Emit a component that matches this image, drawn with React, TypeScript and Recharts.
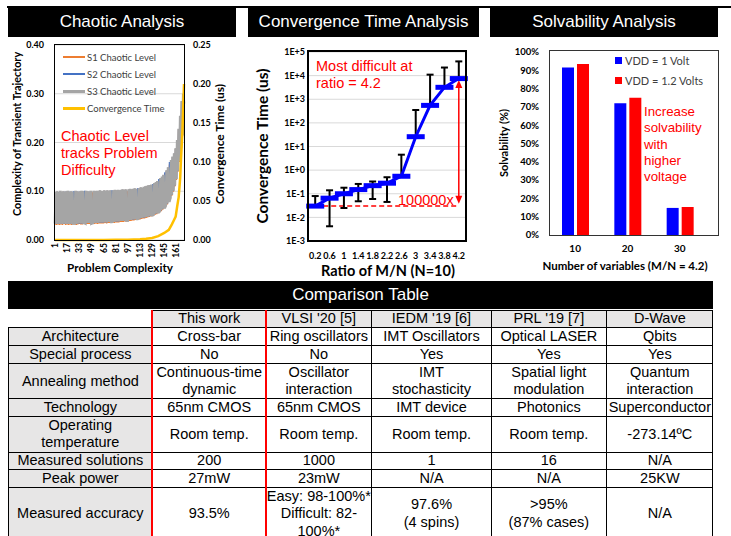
import React from "react";
import {
  ComposedChart,
  LineChart,
  BarChart,
  Line,
  Bar,
  XAxis,
  YAxis,
  CartesianGrid,
  ErrorBar,
  ReferenceLine,
} from "recharts";

const SANS = '"Liberation Sans", Arial, sans-serif';
const AXF = 'Lato, "Open Sans", sans-serif';

// ---- Chaotic analysis (index 1..171) ----
const s1Level = [
  0.032, 0.098, 0.031, 0.099, 0.032, 0.097, 0.031, 0.1, 0.032, 0.098,
  0.031, 0.099, 0.033, 0.098, 0.031, 0.099, 0.032, 0.1, 0.031, 0.098,
  0.032, 0.099, 0.031, 0.098, 0.032, 0.099, 0.032, 0.1, 0.031, 0.099,
  0.032, 0.098, 0.033, 0.099, 0.032, 0.1, 0.032, 0.099, 0.033, 0.099,
  0.032, 0.1, 0.033, 0.099, 0.033, 0.098, 0.033, 0.1, 0.032, 0.098,
  0.033, 0.1, 0.033, 0.099, 0.034, 0.1, 0.033, 0.099, 0.034, 0.101,
  0.034, 0.1, 0.034, 0.099, 0.034, 0.101, 0.035, 0.1, 0.034, 0.101,
  0.035, 0.1, 0.035, 0.101, 0.035, 0.1, 0.036, 0.101, 0.035, 0.102,
  0.036, 0.101, 0.036, 0.102, 0.036, 0.101, 0.037, 0.102, 0.037, 0.103,
  0.037, 0.102, 0.038, 0.103, 0.038, 0.1, 0.038, 0.103, 0.039, 0.104,
  0.039, 0.103, 0.04, 0.104, 0.04, 0.105, 0.041, 0.104, 0.041, 0.105,
  0.042, 0.105, 0.042, 0.107, 0.043, 0.106, 0.044, 0.108, 0.044, 0.109,
  0.045, 0.11, 0.046, 0.111, 0.047, 0.112, 0.048, 0.113, 0.049, 0.114,
  0.05, 0.116, 0.052, 0.118, 0.053, 0.12, 0.055, 0.122, 0.057, 0.126,
  0.059, 0.129, 0.062, 0.133, 0.065, 0.137, 0.069, 0.142, 0.073, 0.148,
  0.078, 0.155, 0.084, 0.163, 0.091, 0.17, 0.099, 0.177, 0.11, 0.187,
  0.123, 0.204, 0.14, 0.227, 0.16, 0.254, 0.186, 0.284, 0.213, 0.27,
  0.27,
];
const s2Level = [
  0.034, 0.098, 0.033, 0.099, 0.034, 0.098, 0.033, 0.1, 0.034, 0.098,
  0.033, 0.099, 0.034, 0.099, 0.033, 0.099, 0.034, 0.1, 0.033, 0.099,
  0.034, 0.099, 0.033, 0.099, 0.034, 0.1, 0.034, 0.1, 0.033, 0.099,
  0.034, 0.099, 0.034, 0.099, 0.034, 0.1, 0.034, 0.099, 0.035, 0.101,
  0.034, 0.1, 0.035, 0.099, 0.035, 0.099, 0.035, 0.1, 0.034, 0.034,
  0.035, 0.1, 0.035, 0.099, 0.036, 0.1, 0.035, 0.099, 0.036, 0.101,
  0.036, 0.1, 0.036, 0.099, 0.036, 0.101, 0.037, 0.1, 0.036, 0.101,
  0.037, 0.1, 0.037, 0.101, 0.037, 0.102, 0.038, 0.101, 0.037, 0.102,
  0.038, 0.101, 0.038, 0.102, 0.038, 0.101, 0.039, 0.102, 0.039, 0.103,
  0.039, 0.102, 0.04, 0.103, 0.04, 0.04, 0.04, 0.103, 0.041, 0.104,
  0.041, 0.103, 0.042, 0.104, 0.042, 0.105, 0.043, 0.104, 0.043, 0.106,
  0.044, 0.105, 0.044, 0.107, 0.045, 0.106, 0.046, 0.108, 0.046, 0.109,
  0.047, 0.11, 0.048, 0.111, 0.049, 0.112, 0.05, 0.113, 0.051, 0.115,
  0.052, 0.116, 0.054, 0.118, 0.055, 0.12, 0.057, 0.125, 0.059, 0.126,
  0.061, 0.129, 0.064, 0.133, 0.067, 0.139, 0.071, 0.142, 0.075, 0.148,
  0.08, 0.16, 0.086, 0.163, 0.093, 0.17, 0.101, 0.177, 0.112, 0.187,
  0.125, 0.204, 0.142, 0.227, 0.162, 0.254, 0.188, 0.284, 0.215, 0.299,
  0.275,
];
const s3Level = [
  0.034, 0.099, 0.033, 0.1, 0.034, 0.098, 0.033, 0.101, 0.034, 0.099,
  0.033, 0.1, 0.035, 0.099, 0.033, 0.1, 0.034, 0.101, 0.033, 0.099,
  0.034, 0.1, 0.033, 0.099, 0.034, 0.034, 0.034, 0.101, 0.033, 0.1,
  0.034, 0.099, 0.035, 0.1, 0.034, 0.101, 0.034, 0.1, 0.035, 0.035,
  0.034, 0.101, 0.035, 0.1, 0.035, 0.099, 0.035, 0.101, 0.034, 0.035,
  0.035, 0.101, 0.035, 0.1, 0.036, 0.101, 0.035, 0.1, 0.036, 0.102,
  0.036, 0.101, 0.036, 0.1, 0.036, 0.102, 0.037, 0.101, 0.036, 0.102,
  0.037, 0.101, 0.037, 0.102, 0.037, 0.037, 0.038, 0.102, 0.037, 0.103,
  0.038, 0.102, 0.038, 0.103, 0.038, 0.102, 0.039, 0.103, 0.039, 0.104,
  0.039, 0.103, 0.04, 0.104, 0.04, 0.04, 0.04, 0.104, 0.041, 0.105,
  0.041, 0.104, 0.042, 0.105, 0.042, 0.106, 0.043, 0.105, 0.043, 0.043,
  0.044, 0.106, 0.044, 0.108, 0.045, 0.107, 0.046, 0.109, 0.046, 0.11,
  0.047, 0.111, 0.048, 0.112, 0.049, 0.113, 0.05, 0.114, 0.051, 0.051,
  0.052, 0.117, 0.054, 0.119, 0.055, 0.121, 0.057, 0.057, 0.059, 0.127,
  0.061, 0.13, 0.064, 0.134, 0.067, 0.067, 0.071, 0.143, 0.075, 0.149,
  0.08, 0.08, 0.086, 0.164, 0.093, 0.171, 0.101, 0.178, 0.112, 0.188,
  0.125, 0.205, 0.142, 0.228, 0.162, 0.255, 0.188, 0.285, 0.215, 0.3,
  0.28,
];
const convIdx = [1, 17, 33, 49, 65, 81, 97, 113, 121, 129, 137, 145, 151, 155, 158, 160, 162, 164, 166, 167, 169, 171];
const convTimeUs = [0, 0, 0, 0, 0.0001, 0.0002, 0.0004, 0.001, 0.0015, 0.0025, 0.005, 0.009, 0.013, 0.02, 0.026, 0.03, 0.043, 0.055, 0.08, 0.103, 0.141, 0.2];
const complexityTicks = [1, 17, 33, 49, 65, 81, 97, 113, 129, 145, 161];

// ---- Convergence time vs M/N ----
const ratios = ["0.2", "0.6", "1", "1.4", "1.8", "2.2", "2.6", "3", "3.4", "3.8", "4.2"];
const meanTime = [0.03, 0.065, 0.1, 0.15, 0.22, 0.28, 0.55, 26, 550, 3200, 7500];
const lowTime = [0.03, 0.0042, 0.025, 0.048, 0.06, 0.045, 0.55, 26, 550, 3200, 7500];
const highTime = [0.08, 0.14, 0.18, 0.26, 0.33, 0.5, 4.5, 350, 11000, 22000, 40000];
const decades = [0.001, 0.01, 0.1, 1, 10, 100, 1000, 10000, 100000];

// ---- Solvability ----
const variables = ["10", "20", "30"];
const solv1V = [91.5, 72, 14.8];
const solv12V = [93.5, 75, 15.3];

// ---- Comparison table ----
const colX = [8, 151.7, 265.7, 371, 491, 605.7, 713];
const rowY = [310, 326.7, 345, 363.3, 398.3, 416, 451.7, 469.3, 486.7, 540];
const headers = ["This work", "VLSI '20 [5]", "IEDM '19 [6]", "PRL '19 [7]", "D-Wave"];
const rowLabels = [
  "Architecture",
  "Special process",
  "Annealing method",
  "Technology",
  "Operating\ntemperature",
  "Measured solutions",
  "Peak power",
  "Measured accuracy",
];
const cells = [
  ["Cross-bar", "Ring oscillators", "IMT Oscillators", "Optical LASER", "Qbits"],
  ["No", "No", "Yes", "Yes", "Yes"],
  ["Continuous-time\ndynamic", "Oscillator\ninteraction", "IMT\nstochasticity", "Spatial light\nmodulation", "Quantum\ninteraction"],
  ["65nm CMOS", "65nm CMOS", "IMT device", "Photonics", "Superconductor"],
  ["Room temp.", "Room temp.", "Room temp.", "Room temp.", "-273.14ºC"],
  ["200", "1000", "1", "16", "N/A"],
  ["27mW", "23mW", "N/A", "N/A", "25KW"],
  ["93.5%", "Easy: 98-100%*\nDifficult: 82-\n100%*", "97.6%\n(4 spins)", ">95%\n(87% cases)", "N/A"],
];

const chaosRows = s3Level.map((v, k) => ({ i: k + 1, s1: s1Level[k], s2: s2Level[k], s3: v }));
const convRows = convIdx.map((i, k) => ({ i, t: convTimeUs[k] }));
const ratioRows = ratios.map((r, k) => ({
  ratio: r,
  time: meanTime[k],
  err: [meanTime[k] - lowTime[k], highTime[k] - meanTime[k]],
}));
const solvRows = variables.map((n, k) => ({ n, v1: solv1V[k], v12: solv12V[k] }));

const tickStyle = { fontSize: 9, fontWeight: 700, fill: "#000", fontFamily: AXF };

const RotTick = ({ x, y, payload }: any) => (
  <text
    x={x}
    y={y}
    transform={`rotate(-90 ${x} ${y})`}
    textAnchor="end"
    dy="0.35em"
    fontSize={8.5}
    fontWeight={700}
    fill="#000"
    fontFamily={AXF}
  >
    {payload.value}
  </text>
);

const BarDot = (props: any) => {
  const { cx, cy, index } = props;
  if (cx == null || cy == null) return null;
  return <rect key={`d${index}`} x={cx - 9} y={cy - 2.5} width={18} height={5} fill="#0000FF" />;
};

const Arrow = (p: any) => {
  const { x1, y1, x2, y2 } = p;
  const top = Math.min(y1, y2);
  const bot = Math.max(y1, y2);
  const x = x1;
  return (
    <g>
      <line x1={x} x2={x2} y1={top + 6} y2={bot - 6} stroke="#FF0000" strokeWidth={1.5} />
      <polygon points={`${x},${top} ${x - 3.5},${top + 8} ${x + 3.5},${top + 8}`} fill="#FF0000" />
      <polygon points={`${x},${bot} ${x - 3.5},${bot - 8} ${x + 3.5},${bot - 8}`} fill="#FF0000" />
    </g>
  );
};

const decadeLabel = (v: number) => {
  const e = Math.round(Math.log10(v));
  return `1E${e >= 0 ? "+" : "-"}${Math.abs(e)}`;
};

const Box = ({ x, y, w, h, bw = 1.5, color = "#000" }: any) => (
  <div
    style={{
      position: "absolute",
      left: x - bw / 2,
      top: y - bw / 2,
      width: w + bw,
      height: h + bw,
      border: `${bw}px solid ${color}`,
      boxSizing: "border-box",
      pointerEvents: "none",
    }}
  />
);

const Header = ({ x, y, w, h, text }: any) => (
  <div
    style={{
      position: "absolute",
      left: x,
      top: y,
      width: w,
      height: h,
      background: "#000",
      color: "#fff",
      fontFamily: SANS,
      fontSize: 17,
      display: "flex",
      alignItems: "center",
      justifyContent: "center",
    }}
  >
    {text}
  </div>
);

const VText = ({ cx, cy, size, children }: any) => (
  <div
    style={{
      position: "absolute",
      left: cx,
      top: cy,
      transform: "translate(-50%, -50%) rotate(-90deg)",
      whiteSpace: "nowrap",
      fontFamily: AXF,
      fontWeight: 700,
      fontSize: size,
      lineHeight: 1,
      color: "#000",
    }}
  >
    {children}
  </div>
);

const CText = ({ cx, cy, size, children }: any) => (
  <div
    style={{
      position: "absolute",
      left: cx,
      top: cy,
      transform: "translate(-50%, -50%)",
      whiteSpace: "nowrap",
      fontFamily: AXF,
      fontWeight: 700,
      fontSize: size,
      lineHeight: 1,
      color: "#000",
    }}
  >
    {children}
  </div>
);

const RedNote = ({ x, y, size, lh, lines }: any) => (
  <div
    style={{
      position: "absolute",
      left: x,
      top: y,
      fontFamily: SANS,
      fontSize: size,
      lineHeight: `${lh}px`,
      color: "#FF0000",
      whiteSpace: "nowrap",
    }}
  >
    {lines.map((l: string, k: number) => (
      <div key={k}>{l}</div>
    ))}
  </div>
);

const chaosLegend = [
  { label: "S1 Chaotic Level", color: "#ED7D31", w: 2 },
  { label: "S2 Chaotic Level", color: "#4472C4", w: 2 },
  { label: "S3 Chaotic Level", color: "#A5A5A5", w: 3 },
  { label: "Convergence Time", color: "#FFC000", w: 2.5 },
];

function ComparisonTable() {
  const out: any[] = [];
  const cellStyle = (c: number, r: number, bg: string): any => ({
    position: "absolute",
    left: colX[c],
    top: rowY[r],
    width: colX[c + 1] - colX[c],
    height: rowY[r + 1] - rowY[r],
    background: bg,
    borderLeft: "1px solid #000",
    borderTop: "1px solid #000",
    boxSizing: "border-box",
    display: "flex",
    alignItems: "center",
    justifyContent: "center",
    textAlign: "center",
    whiteSpace: "pre-line",
    fontFamily: SANS,
    fontSize: 14.5,
    lineHeight: "17.5px",
    color: "#000",
  });
  headers.forEach((h, k) => {
    out.push(
      <div key={`h${k}`} style={cellStyle(k + 1, 0, "#E7E6E6")}>
        {h}
      </div>
    );
  });
  rowLabels.forEach((lab, r) => {
    out.push(
      <div key={`l${r}`} style={cellStyle(0, r + 1, "#E7E6E6")}>
        {lab}
      </div>
    );
    cells[r].forEach((t, c) => {
      out.push(
        <div key={`c${r}-${c}`} style={cellStyle(c + 1, r + 1, "#fff")}>
          {t}
        </div>
      );
    });
  });
  return (
    <>
      {out}
      <div style={{ position: "absolute", left: colX[6] - 1, top: rowY[0], width: 1, height: 230, background: "#000" }} />
      <div style={{ position: "absolute", left: colX[1] - 1, top: rowY[0], width: 2, height: 230, background: "#FF0000" }} />
      <div style={{ position: "absolute", left: colX[2] - 1, top: rowY[0], width: 2, height: 230, background: "#FF0000" }} />
    </>
  );
}

export default function App() {
  return (
    <div
      style={{
        position: "absolute",
        left: 0,
        top: 0,
        width: 731,
        height: 536,
        background: "#fff",
        overflow: "hidden",
        fontFamily: SANS,
      }}
    >
      <div style={{ position: "absolute", left: 7, top: 6, width: 724, height: 2, background: "#000" }} />
      <Header x={8} y={7} w={228} h={30} text="Chaotic Analysis" />
      <Header x={248} y={7} w={231} h={30} text="Convergence Time Analysis" />
      <Header x={490} y={7} w={228} h={30} text="Solvability Analysis" />

      {/* Chaotic analysis */}
      <div style={{ position: "absolute", left: 0, top: 0 }}>
        <ComposedChart width={240} height={280} data={chaosRows} margin={{ top: 45, right: 26, bottom: 10, left: 15 }}>
          <CartesianGrid vertical={false} stroke="#D9D9D9" yAxisId="left" />
          <XAxis
            dataKey="i"
            type="number"
            domain={[1, 171]}
            ticks={complexityTicks}
            interval={0}
            height={30}
            tickSize={0}
            tickMargin={3}
            axisLine={false}
            tickLine={false}
            tick={(p: any) => <RotTick {...p} />}
          />
          <YAxis
            yAxisId="left"
            type="number"
            domain={[0, 0.4]}
            ticks={[0, 0.1, 0.2, 0.3, 0.4]}
            width={40}
            tickSize={0}
            tickMargin={11}
            axisLine={false}
            tickLine={false}
            tick={tickStyle}
            tickFormatter={(v: number) => v.toFixed(2)}
          />
          <YAxis
            yAxisId="right"
            type="number"
            orientation="right"
            domain={[0, 0.25]}
            ticks={[0, 0.05, 0.1, 0.15, 0.2, 0.25]}
            width={30}
            tickSize={0}
            tickMargin={9}
            axisLine={false}
            tickLine={false}
            tick={tickStyle}
            tickFormatter={(v: number) => v.toFixed(2)}
          />
          <Line yAxisId="left" dataKey="s1" stroke="#ED7D31" strokeWidth={1.6} dot={false} isAnimationActive={false} />
          <Line yAxisId="left" dataKey="s2" stroke="#4472C4" strokeWidth={1.6} dot={false} isAnimationActive={false} />
          <Line yAxisId="left" dataKey="s3" stroke="#A5A5A5" strokeWidth={2.6} dot={false} isAnimationActive={false} />
          <Line
            yAxisId="right"
            data={convRows}
            dataKey="t"
            stroke="#FFC000"
            strokeWidth={2.5}
            dot={false}
            isAnimationActive={false}
          />
        </ComposedChart>
      </div>
      <Box x={55} y={45} w={129} h={195} bw={1.5} />
      {chaosLegend.map((it, k) => (
        <div key={k} style={{ position: "absolute", left: 63, top: 51 + k * 17.2, height: 12, display: "flex", alignItems: "center" }}>
          <div style={{ width: 22, height: it.w, background: it.color }} />
          <span style={{ marginLeft: 2, fontFamily: AXF, fontSize: 9.5, color: "#404040", whiteSpace: "nowrap" }}>{it.label}</span>
        </div>
      ))}
      <RedNote x={61} y={128} size={14.5} lh={17.2} lines={["Chaotic Level", "tracks Problem", "Difficulty"]} />
      <VText cx={17} cy={134} size={10.8}>Complexity of Transient Trajectory</VText>
      <VText cx={220} cy={144} size={12}>Convergence Time (us)</VText>
      <CText cx={120} cy={268} size={11.7}>Problem Complexity</CText>

      {/* Convergence time analysis */}
      <div style={{ position: "absolute", left: 245, top: 0 }}>
        <LineChart width={240} height={280} data={ratioRows} margin={{ top: 52, right: 19, bottom: 9, left: 23 }}>
          <CartesianGrid vertical={false} stroke="#D9D9D9" />
          <XAxis
            dataKey="ratio"
            interval={0}
            height={30}
            padding={{ left: 7.2, right: 7.2 }}
            tickSize={0}
            tickMargin={12}
            axisLine={false}
            tickLine={false}
            tick={{ ...tickStyle, fontSize: 9 }}
          />
          <YAxis
            scale="log"
            type="number"
            domain={[0.001, 100000]}
            ticks={decades}
            allowDataOverflow
            width={40}
            tickSize={0}
            tickMargin={3}
            axisLine={false}
            tickLine={false}
            tick={tickStyle}
            tickFormatter={decadeLabel}
          />
          <ReferenceLine
            segment={[
              { x: "0.2", y: 0.03 },
              { x: "4.2", y: 0.03 },
            ]}
            stroke="#FF0000"
            strokeWidth={1.5}
            strokeDasharray="5 3"
          />
          <ReferenceLine
            segment={[
              { x: "4.2", y: 0.038 },
              { x: "4.2", y: 6600 },
            ]}
            stroke="#FF0000"
            shape={Arrow}
          />
          <Line dataKey="time" stroke="#0000FF" strokeWidth={3} dot={BarDot} activeDot={false} isAnimationActive={false}>
            <ErrorBar dataKey="err" width={3.5} stroke="#000" strokeWidth={2} isAnimationActive={false} />
          </Line>
        </LineChart>
      </div>
      <Box x={308} y={51} w={158} h={190} bw={2} />
      <RedNote x={316} y={57.5} size={14.5} lh={17} lines={["Most difficult at", "ratio = 4.2"]} />
      <RedNote x={398} y={191.5} size={14.5} lh={17} lines={["100000x"]} />
      <VText cx={263} cy={146} size={15.5}>Convergence Time (us)</VText>
      <CText cx={388} cy={271} size={14.5}>Ratio of M/N (N=10)</CText>

      {/* Solvability analysis */}
      <div style={{ position: "absolute", left: 490, top: 0 }}>
        <BarChart
          width={241}
          height={280}
          data={solvRows}
          margin={{ top: 52, right: 25, bottom: 15, left: 19 }}
          barSize={12}
          barGap={3}
        >
          <XAxis
            dataKey="n"
            height={30}
            tickSize={0}
            tickMargin={10}
            axisLine={false}
            tickLine={false}
            tick={{ ...tickStyle, fontSize: 10 }}
          />
          <YAxis
            type="number"
            domain={[0, 100]}
            ticks={[0, 10, 20, 30, 40, 50, 60, 70, 80, 90, 100]}
            width={40}
            tickSize={0}
            tickMargin={10}
            axisLine={false}
            tickLine={false}
            tick={{ ...tickStyle, fontSize: 9.5 }}
            tickFormatter={(v: number) => `${v}%`}
          />
          <Bar dataKey="v1" fill="#0000FF" isAnimationActive={false} />
          <Bar dataKey="v12" fill="#FF0000" isAnimationActive={false} />
        </BarChart>
      </div>
      <Box x={549} y={50} w={169} h={185} bw={1} color="#333" />
      {[
        { label: "VDD = 1 Volt", color: "#0000FF", y: 57 },
        { label: "VDD = 1.2 Volts", color: "#FF0000", y: 77 },
      ].map((it, k) => (
        <div key={k} style={{ position: "absolute", left: 615, top: it.y, display: "flex", alignItems: "center", height: 7 }}>
          <div style={{ width: 7, height: 7, background: it.color }} />
          <span style={{ marginLeft: 3, fontFamily: AXF, fontSize: 11, color: "#404040", whiteSpace: "nowrap" }}>{it.label}</span>
        </div>
      ))}
      <RedNote x={644} y={104} size={13.3} lh={16.25} lines={["Increase", "solvability", "with", "higher", "voltage"]} />
      <VText cx={503} cy={143} size={11}>Solvability (%)</VText>
      <CText cx={625} cy={266} size={11.5}>Number of variables (M/N = 4.2)</CText>

      {/* Comparison table */}
      <Header x={8} y={281} w={705} h={28} text="Comparison Table" />
      <ComparisonTable />
    </div>
  );
}
